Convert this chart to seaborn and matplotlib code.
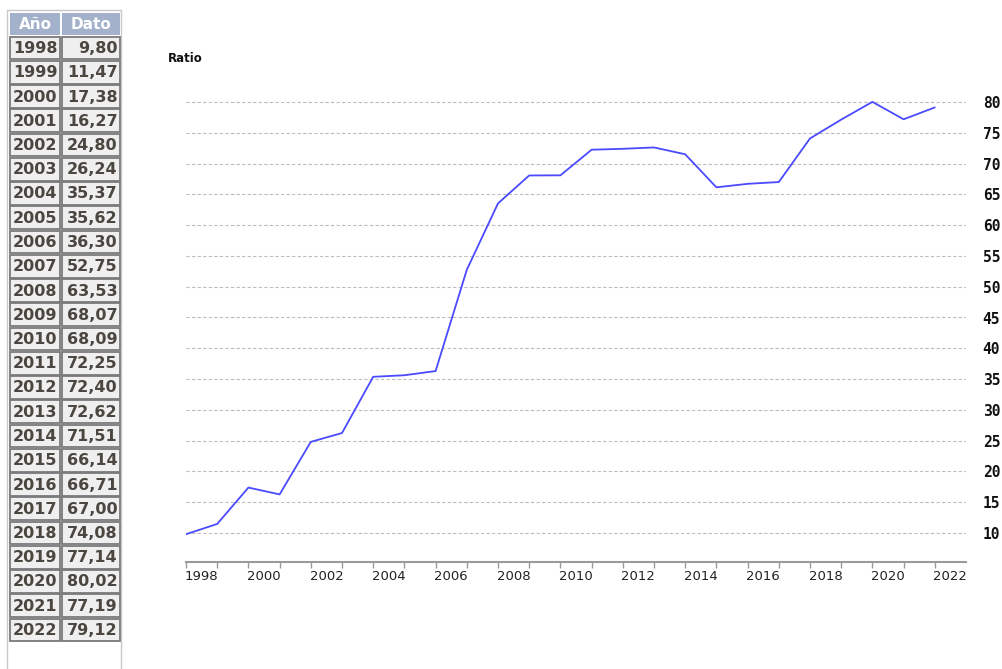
import matplotlib
matplotlib.use("Agg")
import matplotlib.pyplot as plt
import seaborn as sns
from matplotlib.patches import Rectangle

years = [1998, 1999, 2000, 2001, 2002, 2003, 2004, 2005, 2006, 2007, 2008, 2009,
         2010, 2011, 2012, 2013, 2014, 2015, 2016, 2017, 2018, 2019, 2020, 2021, 2022]
ratio = [9.80, 11.47, 17.38, 16.27, 24.80, 26.24, 35.37, 35.62, 36.30, 52.75, 63.53, 68.07,
         68.09, 72.25, 72.40, 72.62, 71.51, 66.14, 66.71, 67.00, 74.08, 77.14, 80.02, 77.19, 79.12]
col_headers = ["Año", "Dato"]
y_ticks = list(range(10, 85, 5))
x_label_years = [y for y in years if y % 2 == 0]

sns.set_style("white")

W, H = 1002, 669
fig = plt.figure(figsize=(W / 100, H / 100), dpi=100)

# ---- table on the left, drawn in pixel coords ----
tab = fig.add_axes([0, 0, 1, 1])
tab.set_xlim(0, W)
tab.set_ylim(H, 0)
tab.axis("off")

tab.add_patch(Rectangle((7.5, 10), 114, 670, fill=False, edgecolor="#c8c8c8", lw=1))
cols = [(10, 50.5), (62, 58)]
hdr_bg = "#a3b1cb"
for (x0, w), name in zip(cols, col_headers):
    tab.add_patch(Rectangle((x0, 13), w, 22, facecolor=hdr_bg, edgecolor="none"))
    tab.text(x0 + w / 2, 24.5, name, ha="center", va="center", color="white",
             fontsize=11, fontweight="bold")

cell_txt = "#4b4640"
for i, (yr, v) in enumerate(zip(years, ratio)):
    cy = 48 + i * 24.25
    for x0, w in cols:
        tab.add_patch(Rectangle((x0, cy - 11.3), w, 22.6, facecolor="#efefef",
                                edgecolor="#7a7a7a", lw=1.3))
    tab.text(cols[0][0] + cols[0][1] / 2, cy + 0.5, str(yr), ha="center", va="center",
             color=cell_txt, fontsize=11.5, fontweight="bold")
    tab.text(cols[1][0] + cols[1][1] - 2.5, cy + 0.5, f"{v:.2f}".replace(".", ","),
             ha="right", va="center", color=cell_txt, fontsize=11.5, fontweight="bold")

# ---- line chart ----
px_per_unit = (533 - 102) / 70.0
ymin = 10 - (562 - 533) / px_per_unit
ymax = 83
top_px = 533 - (ymax - 10) * px_per_unit
ax = fig.add_axes([186 / W, (H - 562) / H, 780 / W, (562 - top_px) / H])

sns.lineplot(x=years, y=ratio, ax=ax, color="#4a4aff", linewidth=1.3)
ax.set_xlim(1998, 2023)
ax.set_ylim(ymin, ymax)

for s in ["top", "left", "right"]:
    ax.spines[s].set_visible(False)
ax.spines["bottom"].set_color("#9a9a9a")
ax.spines["bottom"].set_linewidth(1.5)

ax.set_xticks(years)
ax.set_xticklabels([])
ax.set_xticks([y + 0.5 for y in x_label_years], minor=True)
ax.set_xticklabels([str(y) for y in x_label_years], minor=True)
ax.tick_params(axis="x", which="major", bottom=True, length=4, width=1,
               color="#9a9a9a", direction="out")
ax.tick_params(axis="x", which="minor", bottom=True, length=0, pad=6,
               labelsize=9.5, labelcolor="#222222")

ax.yaxis.tick_right()
ax.set_yticks(y_ticks)
ax.set_yticklabels([str(t) for t in y_ticks], family="DejaVu Sans Mono",
                   fontweight="bold", fontsize=10.5)
ax.tick_params(axis="y", length=0, pad=12, labelcolor="#111111")
ax.grid(axis="y", color="#bdbdbd", linestyle=(0, (3, 2)), linewidth=0.8)
ax.grid(axis="x", visible=False)
ax.set_xlabel("")
ax.set_ylabel("")

fig.text(168 / W, 1 - 58 / H, "Ratio", ha="left", va="center", fontsize=8.5,
         fontweight="bold", color="#111111")

fig.savefig("out.png", dpi=100)
